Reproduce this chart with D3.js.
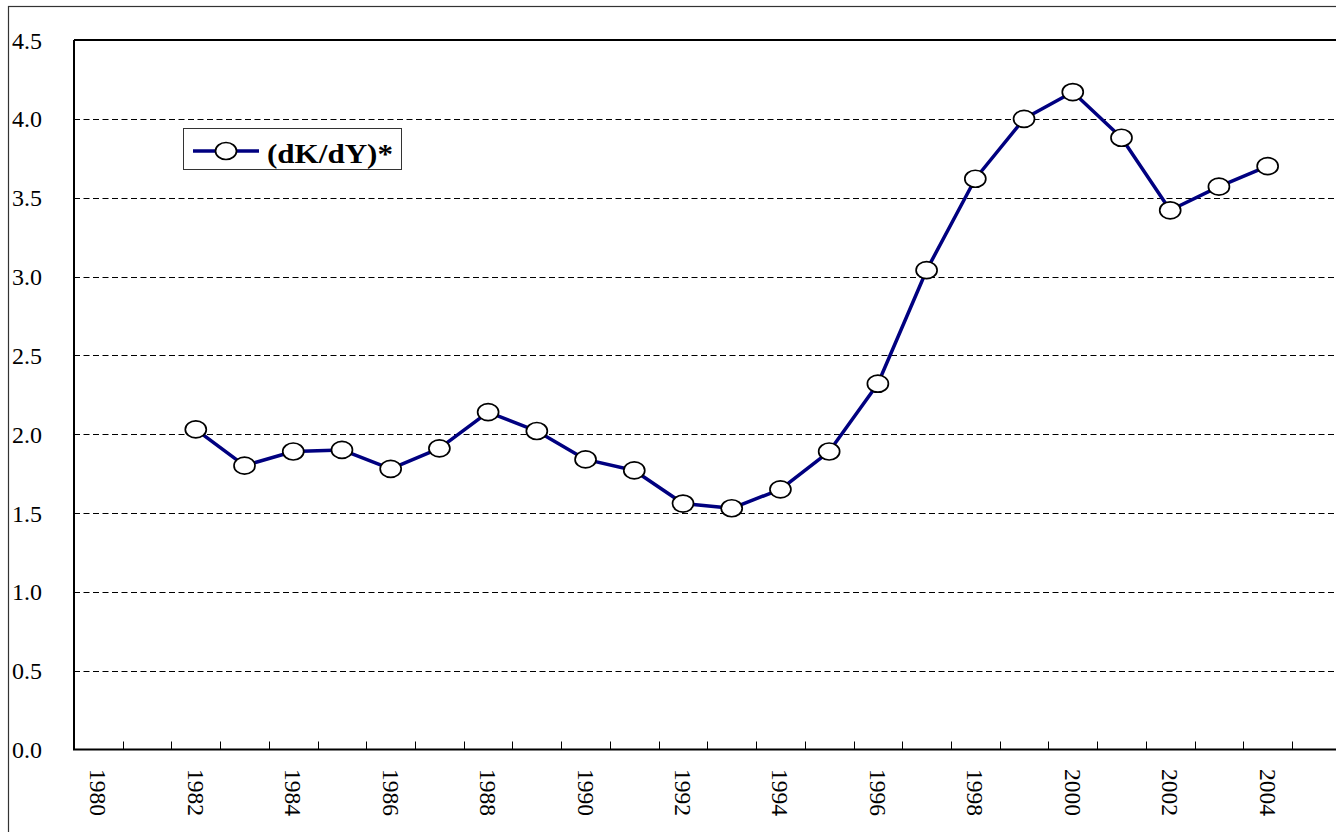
<!DOCTYPE html>
<html>
<head>
<meta charset="utf-8">
<script src="https://cdn.jsdelivr.net/npm/d3@7"></script>
<style>
  body { margin: 0; background: #fff; }
  text { font-family: "Liberation Serif", "Times New Roman", serif; fill: #000; }
</style>
</head>
<body>
<svg id="chart" width="1336" height="832"></svg>
<script>
// categories on the x axis (chart is cut off on the right, 2005 slot has no data)
var years = d3.range(1980, 2006);
var labelYears = [1980, 1982, 1984, 1986, 1988, 1990, 1992, 1994, 1996, 1998, 2000, 2002, 2004];
// series: (dK/dY)*
var seriesYears = [1982, 1983, 1984, 1985, 1986, 1987, 1988, 1989, 1990, 1991, 1992, 1993,
                   1994, 1995, 1996, 1997, 1998, 1999, 2000, 2001, 2002, 2003, 2004];
var seriesValues = [2.03, 1.80, 1.89, 1.90, 1.78, 1.91, 2.14, 2.02, 1.84, 1.77, 1.56, 1.53,
                    1.65, 1.89, 2.32, 3.04, 3.62, 4.00, 4.17, 3.88, 3.42, 3.57, 3.70];
var yTicks = [0, 0.5, 1, 1.5, 2, 2.5, 3, 3.5, 4, 4.5];
var seriesName = "(dK/dY)*";

var svg = d3.select("#chart");
var plotLeft = 74, plotTop = 40, plotBottom = 749.5, band = 48.72;

var x = d3.scaleBand()
    .domain(years)
    .range([plotLeft, plotLeft + years.length * band])
    .padding(0);
var y = d3.scaleLinear()
    .domain([0, 4.5])
    .range([plotBottom, plotTop]);

// outer chart border
svg.append("rect")
    .attr("x", 8.5).attr("y", 6.5)
    .attr("width", 1400).attr("height", 900)
    .attr("fill", "none")
    .attr("stroke", "#333")
    .attr("stroke-width", 1.2);

// dashed gridlines
svg.append("g").selectAll("line")
    .data(yTicks.filter(function(d){ return d > 0 && d < 4.5; }))
    .enter().append("line")
    .attr("x1", plotLeft).attr("x2", 1340)
    .attr("y1", function(d){ return Math.round(y(d)) + 0.5; })
    .attr("y2", function(d){ return Math.round(y(d)) + 0.5; })
    .attr("stroke", "#000")
    .attr("stroke-width", 1)
    .attr("stroke-dasharray", "6,3.5");

// plot frame
svg.append("line").attr("x1", plotLeft).attr("x2", 1340).attr("y1", plotTop).attr("y2", plotTop)
    .attr("stroke", "#000").attr("stroke-width", 2);
svg.append("line").attr("x1", plotLeft).attr("x2", plotLeft).attr("y1", plotTop).attr("y2", plotBottom)
    .attr("stroke", "#000").attr("stroke-width", 2);
svg.append("line").attr("x1", plotLeft - 1).attr("x2", 1340).attr("y1", plotBottom).attr("y2", plotBottom)
    .attr("stroke", "#000").attr("stroke-width", 2);

// x ticks between categories, pointing up into the plot
svg.append("g").selectAll("line")
    .data(years.slice(1))
    .enter().append("line")
    .attr("x1", function(d){ return Math.round(x(d)) + 0.5; })
    .attr("x2", function(d){ return Math.round(x(d)) + 0.5; })
    .attr("y1", plotBottom - 8).attr("y2", plotBottom)
    .attr("stroke", "#000").attr("stroke-width", 1);

// x labels, rotated
svg.append("g").selectAll("text")
    .data(labelYears)
    .enter().append("text")
    .attr("transform", function(d){
        return "translate(" + (x(d) + x.bandwidth() / 2 - 8) + "," + 769 + ") rotate(90)";
    })
    .attr("font-size", 23.5)
    .text(function(d){ return d; });

// y labels
var fmt = d3.format(".1f");
svg.append("g").selectAll("text")
    .data(yTicks)
    .enter().append("text")
    .attr("x", 12)
    .attr("y", function(d){ return y(d) + 8.5; })
    .attr("font-size", 24)
    .text(function(d){ return fmt(d); });

// series line + markers
var points = seriesYears.map(function(yr, i){ return {year: yr, value: seriesValues[i]}; });
var lineFunc = d3.line()
    .x(function(d){ return x(d.year) + x.bandwidth() / 2; })
    .y(function(d){ return y(d.value); });

svg.append("path")
    .attr("d", lineFunc(points))
    .attr("fill", "none")
    .attr("stroke", "#000080")
    .attr("stroke-width", 3.5)
    .attr("stroke-linejoin", "round");

svg.append("g").selectAll("ellipse")
    .data(points)
    .enter().append("ellipse")
    .attr("cx", function(d){ return x(d.year) + x.bandwidth() / 2; })
    .attr("cy", function(d){ return y(d.value); })
    .attr("rx", 10.5).attr("ry", 8.5)
    .attr("fill", "#fff")
    .attr("stroke", "#000")
    .attr("stroke-width", 1.7);

// legend
var lg = svg.append("g");
lg.append("rect")
    .attr("x", 183.5).attr("y", 128.5)
    .attr("width", 218).attr("height", 41)
    .attr("fill", "#fff")
    .attr("stroke", "#333").attr("stroke-width", 1);
lg.append("line")
    .attr("x1", 193).attr("x2", 259).attr("y1", 151).attr("y2", 151)
    .attr("stroke", "#000080").attr("stroke-width", 3.5);
lg.append("ellipse")
    .attr("cx", 226).attr("cy", 151).attr("rx", 10.5).attr("ry", 8.5)
    .attr("fill", "#fff").attr("stroke", "#000").attr("stroke-width", 1.7);
lg.append("text")
    .attr("x", 267).attr("y", 163)
    .attr("font-size", 27)
    .attr("font-weight", "bold")
    .attr("textLength", 126)
    .attr("lengthAdjust", "spacingAndGlyphs")
    .text(seriesName);
</script>
</body>
</html>
